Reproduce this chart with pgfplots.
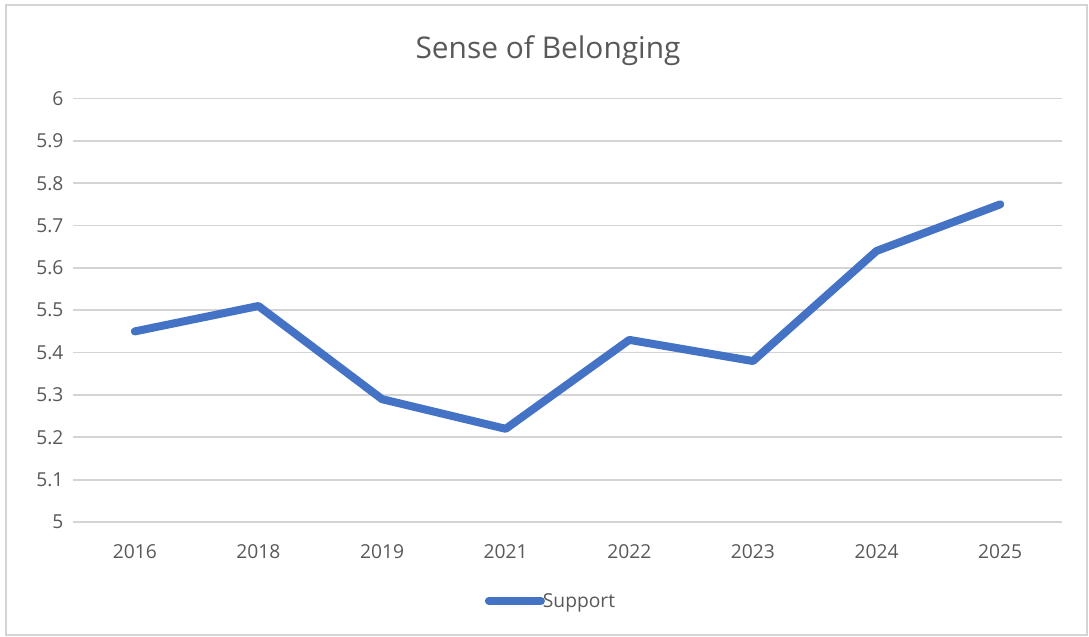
\documentclass[border=0pt]{standalone}
\usepackage{pgfplots}
\pgfplotsset{compat=1.18}
\usepackage{fontspec}
\setmainfont{Open Sans}
\definecolor{exblue}{RGB}{68,114,196}
\definecolor{gridgray}{RGB}{212,212,212}
\definecolor{txtgray}{RGB}{89,89,89}
\begin{document}
\begin{tikzpicture}[x=1bp,y=1bp]
\path[use as bounding box, fill=white] (0,0) rectangle (1089,637);
\draw[gridgray, line width=1.5bp] (6,2) rectangle (1087,632);
\node[anchor=base, text=txtgray, font=\fontsize{30}{34}\selectfont, inner sep=0] at (548,578) {Sense of Belonging};
\begin{axis}[
  at={(73bp,115bp)}, anchor=south west,
  scale only axis, width=989bp, height=423.5bp,
  xmin=-0.5, xmax=7.5, ymin=5, ymax=6,
  ytick distance=0.1,
  xtick={0,...,7},
  xticklabels={2016,2018,2019,2021,2022,2023,2024,2025},
  /pgf/number format/assume math mode=true,
  ticklabel style={font=\fontsize{19.3}{22}\selectfont, text=txtgray},
  yticklabel style={xshift=-6bp},
  xticklabel style={yshift=-19bp},
  ymajorgrids, grid style={gridgray, line width=1.8bp},
  axis line style={draw=none},
  major tick style={draw=none},
  legend style={at={(0.4833,-0.1865)}, anchor=center, draw=none, fill=none,
    font=\fontsize{19.3}{22}\selectfont, text=txtgray, inner sep=0pt,
    /tikz/every even column/.append style={column sep=0pt}},
  legend cell align=left,
  legend image code/.code={\draw[#1] (0bp,0bp) -- (52bp,0bp);},
]
\addplot[exblue, line width=8bp, line cap=round, line join=round] coordinates {
 (0,5.45) (1,5.51) (2,5.29) (3,5.22) (4,5.43) (5,5.38) (6,5.64) (7,5.75)
};
\addlegendentry{\hspace{-4bp}Support}
\end{axis}
\end{tikzpicture}
\end{document}
